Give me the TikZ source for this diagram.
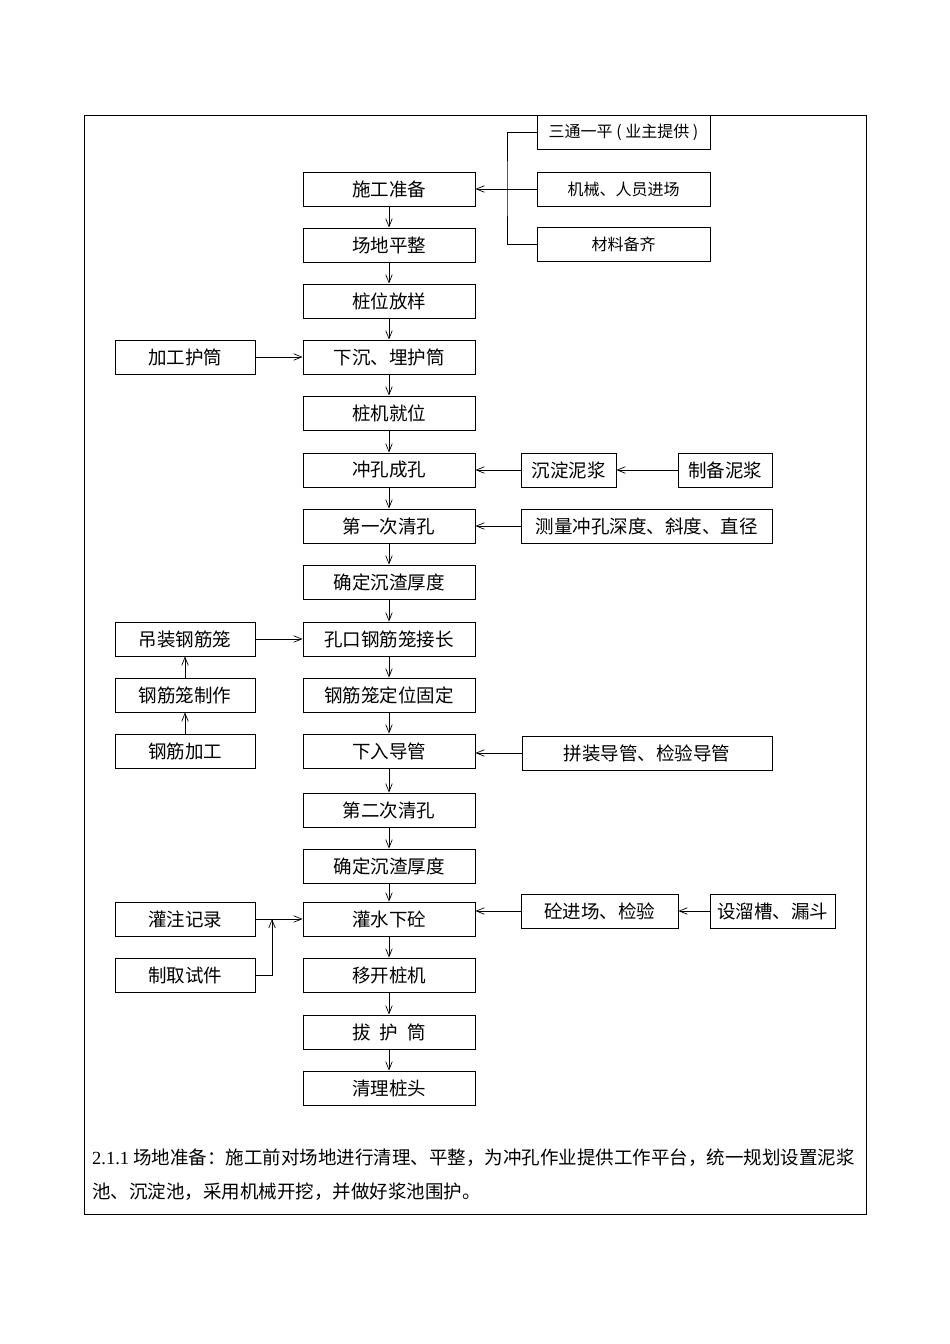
\documentclass[tikz,border=0pt]{standalone}
\usepackage{fontspec}
\setmainfont{Liberation Serif}
\newfontfamily\cjk{Noto Sans CJK SC}
\usetikzlibrary{arrows.meta}

\begin{document}
\begin{tikzpicture}[
    x=1pt, y=-1pt,
    box/.style={
        draw,
        line width=0.9pt,
        inner sep=0pt,
        minimum height=34pt,
        font=\cjk\fontsize{18.5}{20}\selectfont
    },
    mainbox/.style={box, minimum width=172pt},
    sidebox/.style={box, minimum width=140pt},
    smallbox/.style={box, minimum width=173pt, font=\cjk\fontsize{16}{18}\selectfont},
    flow/.style={
        -{Straight Barb[length=8pt,width=6.5pt,line width=0.7pt]},
        line width=0.9pt
    }
]
\useasboundingbox (0,0) rectangle (950,1344);
\draw[line width=0.8pt] (84,115) rectangle (866,1214);

% Main column, from top to bottom.
\foreach \y/\txt [count=\i] in {
    189/施工准备,
    245/场地平整,
    301/桩位放样,
    357/下沉、埋护筒,
    413/桩机就位,
    470/冲孔成孔,
    526/第一次清孔,
    582/确定沉渣厚度,
    639/孔口钢筋笼接长,
    695/钢筋笼定位固定,
    751/下入导管,
    810/第二次清孔,
    866/确定沉渣厚度,
    919/灌水下砼,
    975/移开桩机,
    1032/拔\hspace{9pt}护\hspace{9pt}筒,
    1088/清理桩头
}{
    \node[mainbox] (m\i) at (389,\y) {\txt};
}

\foreach \i in {1,...,16}{
    \pgfmathtruncatemacro{\j}{\i+1}
    \draw[flow] (m\i) -- (m\j);
}

% Preparation inputs.
\node[smallbox] (s1) at (623.5,132) {三通一平 ( 业主提供 )};
\node[smallbox] (s2) at (623.5,189) {机械、人员进场};
\node[smallbox] (s3) at (623.5,244) {材料备齐};
\coordinate (sj) at (507,189);
\draw[line width=0.9pt] (s1.west) -| (sj) |- (s3.west);
\draw[flow] (s2.west) -- (m1.east);

% Casing.
\node[sidebox] (p1) at (185,357) {加工护筒};
\draw[flow] (p1) -- (m4);

% Mud and hole checks.
\node[box, minimum width=95pt] (n1) at (568.5,470) {沉淀泥浆};
\node[box, minimum width=94pt] (n2) at (725,470) {制备泥浆};
\node[box, minimum width=251pt] (n3) at (646.5,526) {测量冲孔深度、斜度、直径};
\draw[flow] (n2) -- (n1);
\draw[flow] (n1) -- (m6);
\draw[flow] (n3) -- (m7);

% Reinforcement cage.
\node[sidebox] (r1) at (185,639) {吊装钢筋笼};
\node[sidebox] (r2) at (185,695) {钢筋笼制作};
\node[sidebox] (r3) at (185,751) {钢筋加工};
\draw[flow] (r3) -- (r2);
\draw[flow] (r2) -- (r1);
\draw[flow] (r1) -- (m9);

% Tremie pipe.
\node[box, minimum width=250pt] (g1) at (647,753) {拼装导管、检验导管};
\draw[flow] (g1.west) -- (g1.west -| m11.east);

% Concrete.
\node[box, minimum width=157pt] (c1) at (599.5,911) {砼进场、检验};
\node[box, minimum width=125pt] (c2) at (772.5,911) {设溜槽、漏斗};
\draw[flow] (c2) -- (c1);
\draw[flow] (c1.west) -- (c1.west -| m14.east);

\node[sidebox] (t1) at (185,919) {灌注记录};
\node[sidebox] (t2) at (185,975) {制取试件};
\coordinate (tj) at (272,919);
\draw[flow] (t1) -- (m14);
\draw[flow] (t2.east) -| (tj);

% Note under the chart.
\node[anchor=north west, align=left, inner sep=0pt,
      font=\cjk\fontsize{18.5}{34}\selectfont] (note) at (92,1149)
    {{\rmfamily 2.1.1} 场地准备：施工前对场地进行清理、平整，为冲孔作业提供工作平台，统一规划设置泥浆\\
     池、沉淀池，采用机械开挖，并做好浆池围护。};
\end{tikzpicture}
\end{document}
